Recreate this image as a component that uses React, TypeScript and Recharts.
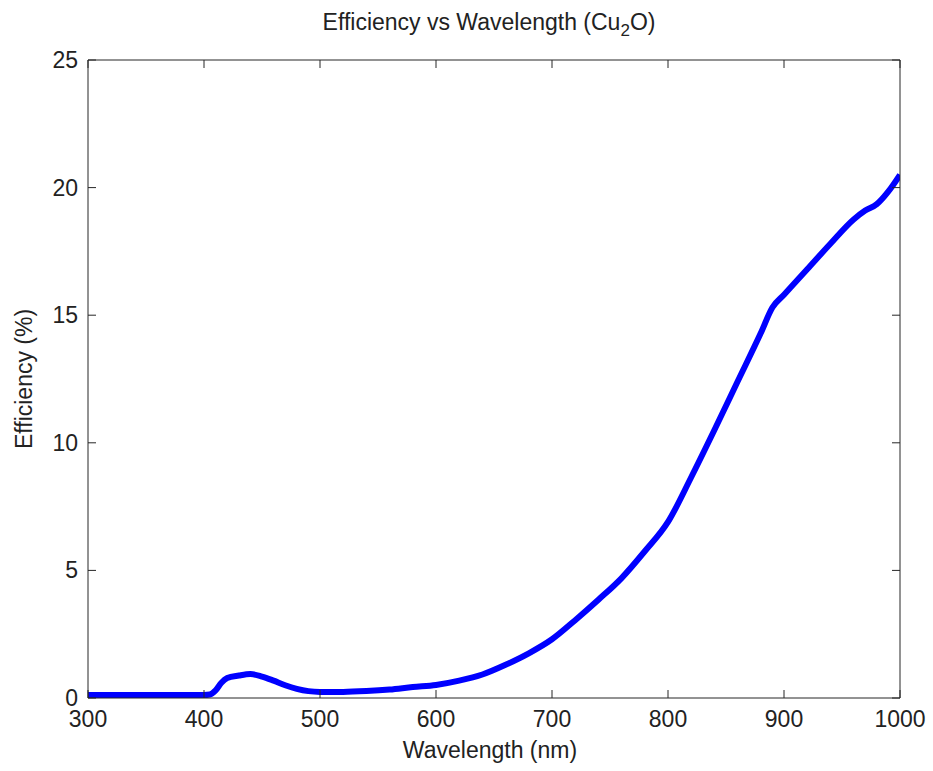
import React from "react";
import { LineChart, Line, XAxis, YAxis } from "recharts";

const wavelengths = [300, 350, 400, 405, 410, 415, 420, 430, 440, 450, 460, 470, 480, 490, 500, 520, 540, 560, 580, 600, 620, 640, 660, 680, 700, 720, 740, 760, 780, 800, 820, 840, 860, 880, 890, 900, 920, 940, 960, 970, 980, 990, 1000];
const efficiency = [0.12, 0.12, 0.12, 0.14, 0.3, 0.6, 0.78, 0.88, 0.94, 0.84, 0.68, 0.5, 0.36, 0.27, 0.24, 0.24, 0.27, 0.33, 0.43, 0.51, 0.68, 0.92, 1.3, 1.75, 2.3, 3.05, 3.85, 4.7, 5.75, 6.9, 8.65, 10.5, 12.4, 14.3, 15.3, 15.8, 16.8, 17.8, 18.75, 19.1, 19.35, 19.85, 20.5];
const xTicks = [300, 400, 500, 600, 700, 800, 900, 1000];
const yTicks = [0, 5, 10, 15, 20, 25];

const data = wavelengths.map((w, i) => ({ w, e: efficiency[i] }));

const FONT = "'Liberation Sans', Arial, sans-serif";
const TXT = "#222";
const AX = "#262626";
const FS = 23;
const TL = 8;

// tickSize=1, tickMargin=0: p.x / p.y lie 1px outside the axis line
const BottomTick = (p: any) => {
  const ay = p.y - 1;
  return (
    <g>
      <line x1={p.x} y1={ay} x2={p.x} y2={ay - TL} stroke={AX} />
      <text x={p.x} y={ay + 29} textAnchor="middle" fontFamily={FONT} fontSize={FS} fill={TXT}>
        {p.payload.value}
      </text>
    </g>
  );
};
const TopTick = (p: any) => {
  const ay = p.y + 1;
  return <line x1={p.x} y1={ay} x2={p.x} y2={ay + TL} stroke={AX} />;
};
const LeftTick = (p: any) => {
  const ax = p.x + 1;
  return (
    <g>
      <line x1={ax} y1={p.y} x2={ax + TL} y2={p.y} stroke={AX} />
      <text x={ax - 10} y={p.y + 8} textAnchor="end" fontFamily={FONT} fontSize={FS} fill={TXT}>
        {p.payload.value}
      </text>
    </g>
  );
};
const RightTick = (p: any) => {
  const ax = p.x - 1;
  return <line x1={ax} y1={p.y} x2={ax - TL} y2={p.y} stroke={AX} />;
};

export default function App() {
  return (
    <div style={{ position: "absolute", left: 0, top: 0, width: 933, height: 771, background: "#fff" }}>
      <LineChart width={933} height={771} data={data} margin={{ top: 59, right: 32, bottom: 0, left: 0 }}>
        <XAxis
          xAxisId="b"
          dataKey="w"
          type="number"
          domain={[300, 1000]}
          ticks={xTicks}
          orientation="bottom"
          height={73}
          tickSize={1}
          tickMargin={0}
          tickLine={false}
          axisLine={{ stroke: AX }}
          tick={BottomTick}
          interval={0}
          allowDataOverflow
          label={{
            content: () => (
              <text x={490} y={758} textAnchor="middle" fontFamily={FONT} fontSize={FS} fill={TXT}>
                Wavelength (nm)
              </text>
            ),
          }}
        />
        <XAxis
          xAxisId="t"
          dataKey="w"
          type="number"
          domain={[300, 1000]}
          ticks={xTicks}
          orientation="top"
          height={1}
          tickSize={1}
          tickMargin={0}
          tickLine={false}
          axisLine={{ stroke: AX }}
          tick={TopTick}
          interval={0}
          allowDataOverflow
          label={{
            content: () => (
              <text x={489} y={30} textAnchor="middle" fontFamily={FONT} fontSize={FS} fill={TXT}>
                Efficiency vs Wavelength (Cu
                <tspan fontSize={17} dy={6}>2</tspan>
                <tspan dy={-6}>O)</tspan>
              </text>
            ),
          }}
        />
        <YAxis
          yAxisId="l"
          type="number"
          domain={[0, 25]}
          ticks={yTicks}
          orientation="left"
          width={88}
          tickSize={1}
          tickMargin={0}
          tickLine={false}
          axisLine={{ stroke: AX }}
          tick={LeftTick}
          interval={0}
          allowDataOverflow
          label={{
            content: () => (
              <text
                x={32}
                y={379}
                transform="rotate(-90 32 379)"
                textAnchor="middle"
                fontFamily={FONT}
                fontSize={FS}
                fill={TXT}
              >
                Efficiency (%)
              </text>
            ),
          }}
        />
        <YAxis
          yAxisId="r"
          type="number"
          domain={[0, 25]}
          ticks={yTicks}
          orientation="right"
          width={1}
          tickSize={1}
          tickMargin={0}
          tickLine={false}
          axisLine={{ stroke: AX }}
          tick={RightTick}
          interval={0}
          allowDataOverflow
        />
        <Line
          xAxisId="b"
          yAxisId="l"
          dataKey="e"
          type="monotone"
          stroke="#0000ff"
          strokeWidth={6}
          dot={false}
          isAnimationActive={false}
        />
      </LineChart>
    </div>
  );
}
